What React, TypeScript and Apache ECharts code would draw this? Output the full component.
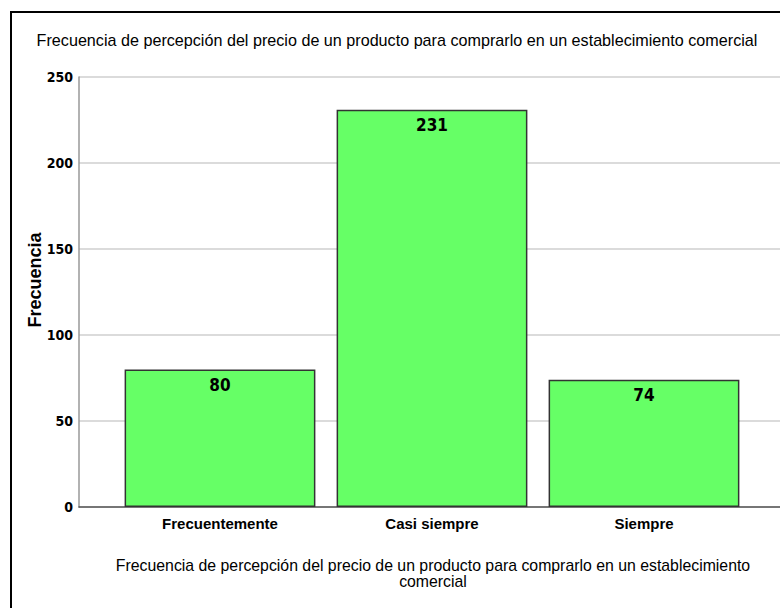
import React, { useEffect, useRef } from "react";
import * as echarts from "echarts";

const categories = ["Frecuentemente", "Casi siempre", "Siempre"];
const values = [80, 231, 74];
const yMin = 0;
const yMax = 250;
const yInterval = 50;
const titleText =
  "Frecuencia de percepción del precio de un producto para comprarlo en un establecimiento comercial";
const xAxisTitle =
  "Frecuencia de percepción del precio de un producto para comprarlo en un establecimiento\ncomercial";
const yAxisTitle = "Frecuencia";

const COND = "'DejaVu Sans Condensed', 'Liberation Sans', Arial, sans-serif";
const SANS = "'Liberation Sans', Arial, sans-serif";

export default function App() {
  const ref = useRef<HTMLDivElement>(null);
  useEffect(() => {
    if (!ref.current) return;
    const chart = echarts.init(ref.current, undefined, { renderer: "svg" });
    chart.setOption({
      animation: false,
      backgroundColor: "#ffffff",
      grid: [
        { left: 79, right: -20, top: 77, bottom: 101, containLabel: false },
        { left: 114, right: 30, top: 77, bottom: 101, containLabel: false },
      ],
      xAxis: [
        {
          gridIndex: 0,
          type: "value",
          min: 0,
          max: 1,
          axisLine: { show: true, onZero: false, lineStyle: { color: "#555", width: 1.5 } },
          axisTick: { show: false },
          axisLabel: { show: false },
          splitLine: { show: false },
        },
        {
          gridIndex: 1,
          type: "category",
          data: categories,
          axisLine: { show: false },
          axisTick: { show: false },
          axisLabel: {
            color: "#000",
            fontFamily: SANS,
            fontSize: 15,
            fontWeight: "bold",
            margin: 9,
          },
        },
      ],
      yAxis: [
        {
          gridIndex: 0,
          type: "value",
          min: yMin,
          max: yMax,
          interval: yInterval,
          axisLine: { show: true, lineStyle: { color: "#999", width: 1.5 } },
          axisTick: { show: false },
          axisLabel: {
            color: "#000",
            fontFamily: COND,
            fontSize: 14,
            fontWeight: "bold",
            margin: 6,
          },
          splitLine: { show: true, lineStyle: { color: "#cfcfcf", width: 1.5 } },
        },
        {
          gridIndex: 1,
          type: "value",
          min: yMin,
          max: yMax,
          interval: yInterval,
          show: false,
        },
      ],
      series: [
        {
          type: "bar",
          xAxisIndex: 1,
          yAxisIndex: 1,
          data: values,
          barCategoryGap: "10%",
          itemStyle: { color: "#66ff66", borderColor: "#333", borderWidth: 1.5 },
          label: {
            show: true,
            position: "insideTop",
            distance: 7,
            color: "#000",
            fontFamily: COND,
            fontWeight: "bold",
            fontSize: 17,
          },
        },
      ],
      graphic: [
        {
          type: "rect",
          shape: { x: 11, y: 12, width: 800, height: 700 },
          style: { fill: "none", stroke: "#000", lineWidth: 2 },
          silent: true,
        },
        {
          type: "text",
          x: 397,
          y: 40,
          scaleX: 0.95,
          style: {
            text: titleText,
            fill: "#000",
            font: `17px ${SANS}`,
            textAlign: "center",
            textVerticalAlign: "middle",
          },
        },
        {
          type: "text",
          x: 35,
          y: 280,
          rotation: Math.PI / 2,
          style: {
            text: yAxisTitle,
            fill: "#000",
            font: `bold 18px ${SANS}`,
            textAlign: "center",
            textVerticalAlign: "middle",
          },
        },
        {
          type: "text",
          x: 433,
          y: 573,
          scaleX: 0.99,
          style: {
            text: xAxisTitle,
            fill: "#000",
            font: `16px ${SANS}`,
            lineHeight: 16,
            textAlign: "center",
            textVerticalAlign: "middle",
          },
        },
      ],
    });
    return () => chart.dispose();
  }, []);
  return (
    <div
      ref={ref}
      style={{ position: "absolute", left: 0, top: 0, width: 780, height: 608 }}
    />
  );
}
